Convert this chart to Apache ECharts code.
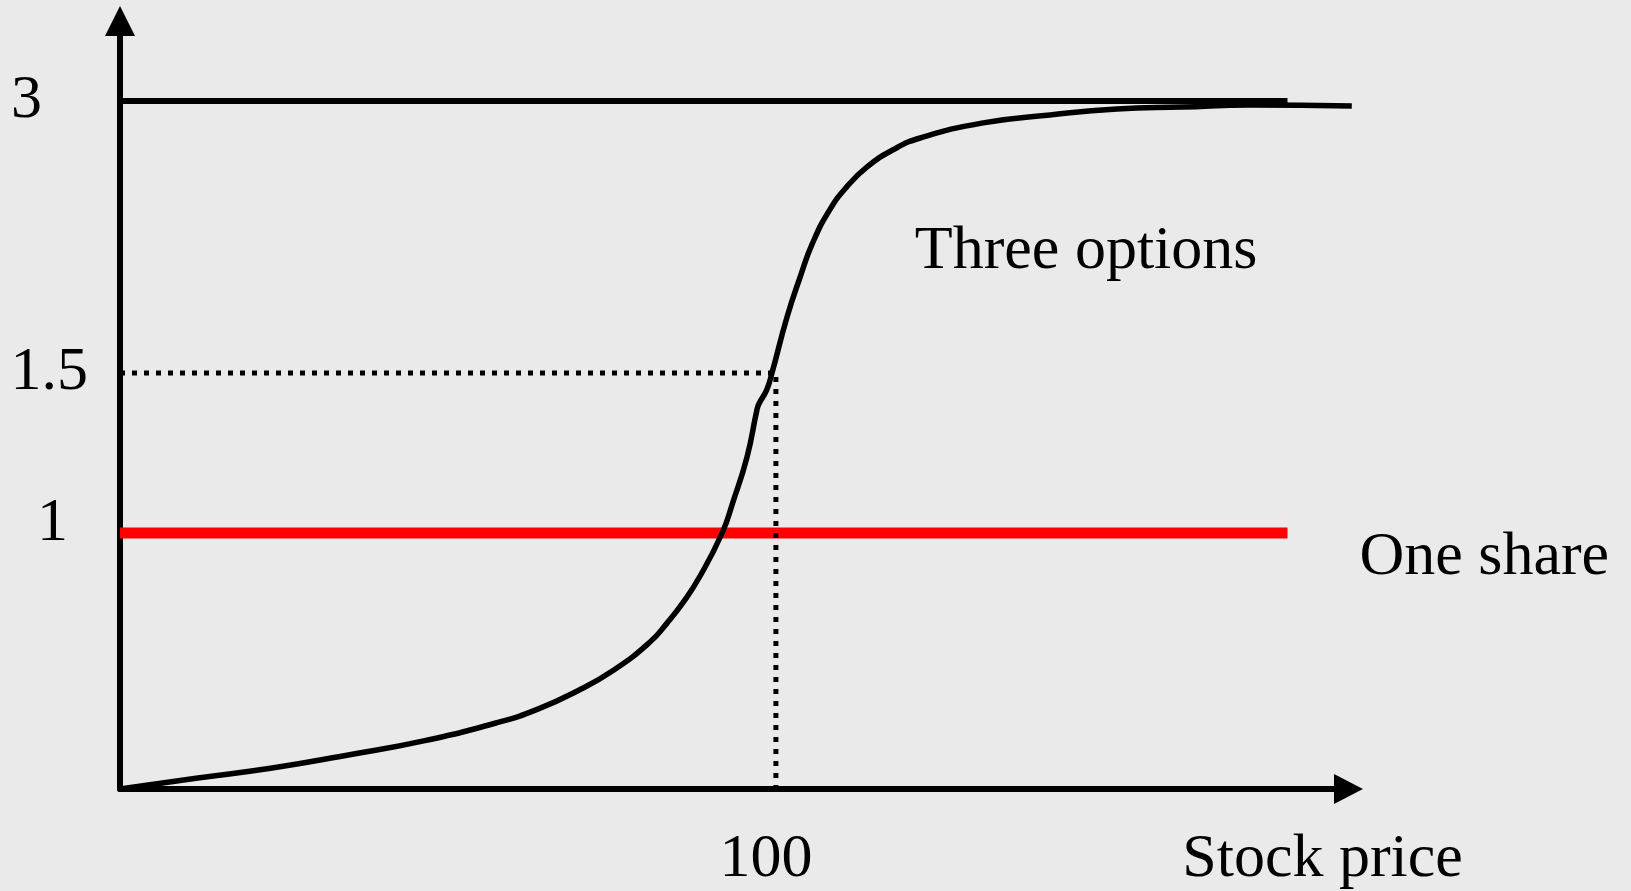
<!DOCTYPE html>
<html>
<head>
<meta charset="utf-8">
<title>Three options vs one share</title>
<script src="https://cdn.jsdelivr.net/npm/echarts@6.0.0/dist/echarts.min.js"></script>
<style>
  html, body { margin: 0; padding: 0; background: #eaeaea; }
  #chart { width: 1631px; height: 891px; }
</style>
</head>
<body>
<div id="chart"></div>
<script>
// stock price on x, value (in units of one share) on y
const curvePrice = [0, 11.6, 23.2, 34.8, 46.3, 57.9, 63.7, 69.5, 75.3, 80.8, 83.4, 85.8, 88.4, 91.8,
  93.4, 95.6, 97.1, 97.4, 98.6, 99.4, 101.7, 103.7, 105.6, 108.2, 110.8, 113.9, 117.8, 122.0,
  131.6, 141.8, 152.0, 162.0, 172.3, 187.8]
const curveValue = [0, 0.042, 0.082, 0.133, 0.188, 0.262, 0.312, 0.380, 0.465, 0.574, 0.648, 0.727, 0.830, 1.0,
  1.117, 1.297, 1.480, 1.504, 1.559, 1.625, 1.844, 2.0, 2.133, 2.262, 2.352, 2.430, 2.496, 2.543,
  2.602, 2.633, 2.656, 2.664, 2.672, 2.668]

const sharePrice = [0, 178]
const shareValue = [1, 1]

const capPrice = [0, 178]
const capValue = [2.6875, 2.6875]

const guidePrice = [0, 100, 100]
const guideValue = [1.625, 1.625, 0]

const xTickValues = [100]
const xTickLabels = ['100']
const yTickValues = [1, 1.625, 2.6875]
const yTickLabels = ['1', '1.5', '3']

const labelNames = { curve: 'Three options', share: 'One share', xAxis: 'Stock price' }
const curveLabelAt = [147.3, 2.10]

const FONT = 'Liberation Serif, Times New Roman, serif'

const zip = (xs, ys) => xs.map((x, i) => [x, ys[i]])

const myChart = echarts.init(document.getElementById('chart'), null, { renderer: 'canvas' })

myChart.setOption({
  backgroundColor: '#eaeaea',
  animation: false,
  grid: {
    left: 120,
    top: 21,
    right: 282.5,
    bottom: 102,
    containLabel: false,
    outerBoundsMode: 'none'
  },
  xAxis: {
    type: 'value',
    min: 0,
    max: 187.3,
    name: labelNames.xAxis,
    nameLocation: 'end',
    nameGap: -26,
    nameTextStyle: {
      fontFamily: FONT,
      fontSize: 62,
      color: '#000',
      align: 'center',
      verticalAlign: 'top',
      lineHeight: 142
    },
    axisLine: {
      symbol: ['none', 'triangle'],
      symbolSize: [30, 29],
      lineStyle: { color: '#000', width: 6 }
    },
    axisTick: { show: false },
    splitLine: { show: false },
    axisLabel: {
      customValues: xTickValues,
      formatter: (v) => {
        const i = xTickValues.findIndex(t => Math.abs(t - v) < 1e-6)
        return i < 0 ? '' : xTickLabels[i]
      },
      fontFamily: FONT,
      fontSize: 62,
      color: '#000',
      margin: 40,
      padding: [0, 20, 0, 0]
    }
  },
  yAxis: {
    type: 'value',
    min: 0,
    max: 3,
    axisLine: {
      symbol: ['none', 'triangle'],
      symbolSize: [30, 30],
      lineStyle: { color: '#000', width: 6 }
    },
    axisTick: { show: false },
    splitLine: { show: false },
    axisLabel: {
      customValues: yTickValues,
      // each label sits a little differently in the original
      formatter: (v) => {
        const i = yTickValues.findIndex(t => Math.abs(t - v) < 1e-6)
        return i < 0 ? '' : '{t' + i + '|' + yTickLabels[i] + '}'
      },
      align: 'right',
      margin: 32,
      rich: {
        t0: { fontFamily: FONT, fontSize: 62, color: '#000', padding: [0, 20, 18, 0] },
        t1: { fontFamily: FONT, fontSize: 62, color: '#000', padding: [0, 0, 0, 0] },
        t2: { fontFamily: FONT, fontSize: 62, color: '#000', padding: [0, 46, 0, 0] }
      }
    }
  },
  series: [
    {
      name: labelNames.share,
      type: 'line',
      data: zip(sharePrice, shareValue),
      symbol: 'none',
      lineStyle: { color: '#ff0000', width: 11, cap: 'butt' },
      endLabel: {
        show: true,
        formatter: labelNames.share,
        fontFamily: FONT,
        fontSize: 62,
        color: '#000',
        distance: 70,
        offset: [2, 25]
      },
      z: 2
    },
    {
      name: labelNames.curve,
      type: 'line',
      data: zip(curvePrice, curveValue),
      symbol: 'none',
      smooth: 0.5,
      clip: false,
      lineStyle: { color: '#000', width: 5.5 },
      markPoint: {
        symbol: 'circle',
        symbolSize: 0,
        label: {
          show: true,
          position: 'inside',
          formatter: labelNames.curve,
          fontFamily: FONT,
          fontSize: 62,
          color: '#000'
        },
        data: [{ coord: curveLabelAt }]
      },
      z: 3
    },
    {
      name: 'cap',
      type: 'line',
      data: zip(capPrice, capValue),
      symbol: 'none',
      lineStyle: { color: '#000', width: 6, cap: 'butt' },
      z: 3
    },
    {
      name: 'guide',
      type: 'line',
      data: zip(guidePrice, guideValue),
      symbol: 'none',
      lineStyle: { color: '#000', width: 5, type: [5, 7], cap: 'butt' },
      z: 4
    }
  ]
})

window.addEventListener('resize', () => {
  myChart.resize()
}, false)
</script>
</body>
</html>
